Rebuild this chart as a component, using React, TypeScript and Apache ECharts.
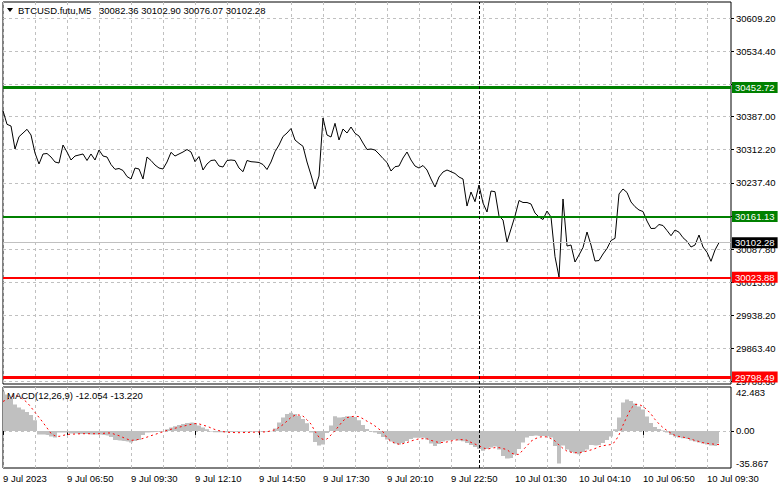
import React, { useEffect, useRef } from "react";
import * as echarts from "echarts";

// ---- data ----
const HEADER_SYMBOL = "BTCUSD.futu,M5";
const HEADER_OHLC = [30082.36, 30102.9, 30076.07, 30102.28];
const MACD_PARAMS = [12, 26, 9];
const MACD_LAST = [-12.054, -13.22];

// one sample every 10 minutes (2 M5 bars), starting 9 Jul 04:10
const START_DAY = 9;
const START_MINUTE = 4 * 60 + 10;
const STEP_MINUTES = 10;
const CATEGORY_COUNT = 183;
const SEPARATOR = "10 Jul 00:00";
const FIRST_LABEL = "9 Jul 2023";

const PRICE = [
  30400.4, 30369.7, 30365.8, 30313.9, 30341.7, 30350.0, 30358.4, 30345.5, 30304.8, 30280.0,
  30302.6, 30303.7, 30295.8, 30284.5, 30282.2, 30322.9, 30307.1, 30289.0, 30298.0, 30300.3,
  30302.6, 30287.9, 30302.6, 30289.0, 30311.6, 30298.0, 30295.8, 30278.8, 30268.0, 30269.8,
  30265.3, 30251.7, 30246.1, 30270.9, 30268.7, 30246.1, 30295.8, 30287.9, 30277.7, 30270.9,
  30268.7, 30284.5, 30306.4, 30298.0, 30302.6, 30307.1, 30312.7, 30307.1, 30285.2, 30296.9,
  30266.4, 30280.0, 30287.9, 30289.0, 30275.4, 30273.2, 30287.9, 30289.0, 30287.9, 30270.9,
  30262.6, 30287.9, 30285.2, 30284.5, 30283.4, 30278.8, 30267.5, 30284.5, 30307.8, 30322.9,
  30342.1, 30350.0, 30360.2, 30334.2, 30326.7, 30320.0, 30284.5, 30255.1, 30223.5, 30252.8,
  30384.0, 30345.5, 30341.0, 30371.9, 30334.2, 30359.1, 30350.0, 30363.6, 30349.3, 30343.2,
  30327.4, 30312.7, 30313.9, 30311.6, 30302.6, 30292.4, 30283.4, 30264.1, 30273.9, 30275.4,
  30293.5, 30307.1, 30289.0, 30275.4, 30270.9, 30276.6, 30266.4, 30246.1, 30228.0, 30250.6,
  30261.9, 30266.4, 30262.6, 30258.5, 30250.6, 30246.1, 30185.0, 30216.7, 30194.8, 30232.5,
  30191.8, 30171.5, 30218.9, 30217.4, 30162.4, 30153.4, 30103.7, 30133.1, 30162.4, 30197.5,
  30193.0, 30193.0, 30189.6, 30169.2, 30160.2, 30154.5, 30173.7, 30160.2, 30070.5, 30024.6,
  30200.9, 30094.6, 30096.9, 30058.5, 30074.3, 30091.3, 30126.3, 30096.9, 30060.7, 30061.9,
  30076.6, 30089.0, 30107.1, 30112.0, 30212.2, 30223.5, 30215.6, 30194.1, 30183.5, 30176.0,
  30172.6, 30151.1, 30134.2, 30134.6, 30143.2, 30141.0, 30129.7, 30117.9, 30130.8, 30125.8,
  30113.4, 30105.3, 30092.4, 30096.9, 30119.5, 30092.4, 30080.4, 30060.1, 30085.6, 30102.28,
];

const MACD_MAIN = [
  38.2, 35.3, 31.4, 25.6, 22.7, 20.8, 18.4, 15.5, 10.2, -3.4,
  -3.4, -3.9, -5.3, -6.3, -1.5, -1.5, -1.5, -2.4, -2.4, -2.9,
  -2.9, -2.9, -3.4, -3.4, -3.4, -3.9, -4.4, -5.8, -8.7, -9.2,
  -9.7, -10.2, -11.1, -9.7, -8.7, -3.9, -1.5, -1.3, -1.0, -0.5,
  -0.2, 1.7, 3.4, 4.4, 5.8, 6.8, 7.7, 8.2, 7.7, 5.3,
  3.4, 1.5, -0.5, -1.2, -1.2, -1.2, -1.2, -1.0, -0.8, -0.5,
  -0.5, -0.5, -0.5, -0.5, -0.5, -0.5, -0.5, -0.3, 2.4, 8.2,
  13.1, 16.4, 17.6, 16.4, 14.5, 11.6, 7.3, -1.5, -10.6, -14.0,
  -13.1, -1.9, 5.3, 14.3, 13.1, 13.5, 14.3, 14.3, 13.5, 10.2,
  5.8, 1.9, -0.5, -1.5, -2.9, -5.8, -8.2, -10.2, -12.1, -13.1,
  -11.6, -9.7, -7.7, -6.6, -6.6, -6.6, -8.2, -12.1, -14.5, -12.6,
  -10.2, -9.2, -8.7, -8.2, -9.2, -9.9, -11.6, -13.5, -15.5, -17.4,
  -19.3, -17.4, -16.0, -15.0, -17.9, -24.2, -26.6, -26.1, -22.7, -17.4,
  -11.1, -6.3, -4.8, -4.5, -4.9, -5.0, -5.1, -6.3, -14.7, -31.4,
  -14.0, -17.9, -20.3, -21.6, -22.5, -20.3, -17.9, -13.5, -14.0, -13.5,
  -11.6, -8.7, -5.3, 1.5, 13.1, 27.6, 30.5, 29.0, 26.6, 23.6,
  20.8, 14.0, 7.7, 3.9, 1.9, 0.3, -1.5, -3.9, -5.3, -6.3,
  -7.1, -7.7, -9.2, -10.2, -11.1, -12.1, -13.1, -14.0, -14.5, -12.054,
];

const MACD_SIGNAL = [
  28.5, 30.5, 32.7, 34.6, 33.4, 30.7, 27.6, 23.0, 17.9, 13.1,
  8.2, 2.9, -2.4, -4.8, -5.3, -4.4, -3.4, -3.2, -3.0, -2.8,
  -2.7, -2.7, -2.7, -2.7, -2.7, -2.4, -2.0, -2.0, -3.4, -4.6,
  -6.3, -7.9, -9.2, -8.7, -8.2, -7.3, -6.0, -4.6, -3.4, -2.1,
  -0.8, 0.5, 1.6, 2.6, 3.6, 4.5, 5.5, 6.3, 7.1, 6.8,
  5.6, 4.5, 2.9, 1.3, 0.3, -0.7, -1.2, -1.5, -1.6, -1.7,
  -1.6, -1.5, -1.3, -1.2, -1.1, -1.0, -0.9, 0.2, 1.1, 3.4,
  6.1, 9.5, 13.1, 15.2, 15.4, 14.4, 10.7, 6.7, -0.5, -6.1,
  -8.2, -7.9, -3.9, 0.2, 5.0, 9.7, 12.8, 13.8, 14.2, 13.8,
  11.8, 9.4, 7.3, 4.8, 1.7, -0.8, -6.8, -10.0, -11.8, -12.9,
  -12.3, -11.3, -9.8, -8.6, -7.7, -7.5, -7.6, -9.1, -10.3, -11.2,
  -11.2, -10.7, -9.7, -9.0, -8.3, -8.5, -9.0, -11.1, -12.7, -14.5,
  -16.2, -17.8, -16.7, -16.2, -16.2, -17.1, -18.1, -21.3, -22.7, -22.7,
  -18.4, -14.4, -10.0, -7.7, -6.0, -5.6, -5.8, -7.4, -9.7, -13.7,
  -16.9, -19.6, -20.6, -21.1, -21.1, -20.4, -19.4, -18.4, -17.1, -15.3,
  -14.3, -13.7, -13.2, -10.5, -3.8, 5.6, 14.0, 21.8, 25.6, 25.6,
  23.7, 20.5, 16.4, 11.1, 6.8, 3.2, 0.4, -2.2, -4.3, -5.4,
  -6.0, -6.9, -7.8, -9.3, -10.2, -11.4, -12.0, -12.5, -12.9, -13.22,
];

const PRICE_MIN = 29782.8;
const PRICE_MAX = 30646.1;
const PRICE_GRID_VALUES = [
  29788.6, 29863.4, 29938.2, 30013.0, 30087.8, 30162.6, 30237.4, 30312.2, 30387.0, 30459.6,
  30534.4, 30609.2,
];
const PRICE_LABEL_VALUES = [
  29788.6, 29863.4, 29938.2, 30013.0, 30087.8, 30237.4, 30312.2, 30387.0, 30534.4, 30609.2,
];
const GREEN_LEVELS = [30452.72, 30161.13];
const RED_LEVELS = [30023.88, 29798.49];
const LAST_PRICE = 30102.28;

const MACD_MIN = -35.867;
const MACD_MAX = 42.483;
const MACD_LABEL_VALUES = [-35.867, 0, 42.483];
const MACD_GRID_VALUES = [0];

// ---- helpers ----
const pad = (n: number) => (n < 10 ? "0" + n : "" + n);
function buildCategories(): string[] {
  const out: string[] = [];
  for (let i = 0; i < CATEGORY_COUNT; i++) {
    const m = START_MINUTE + i * STEP_MINUTES;
    const day = START_DAY + Math.floor(m / 1440);
    const mm = m % 1440;
    out.push(`${day} Jul ${pad(Math.floor(mm / 60))}:${pad(mm % 60)}`);
  }
  return out;
}
const CATEGORIES = buildCategories();

const FONT = "'Liberation Sans', Arial, sans-serif";
const FS = 9.5;
const GRID_LINE = { color: "#c0c0c0", width: 1, type: [3, 3] as any };

function levelLine(value: number, color: string, width: number, bg: string) {
  return {
    yAxis: value,
    lineStyle: { color, width, type: "solid" },
    label: {
      show: true,
      position: "end",
      distance: 1,
      formatter: value.toFixed(2),
      color: "#fff",
      backgroundColor: bg,
      padding: [1, 3, 0, 3],
      lineHeight: 10,
      fontSize: FS,
      fontFamily: FONT,
    },
  };
}

export default function App() {
  const ref = useRef<HTMLDivElement>(null);

  useEffect(() => {
    if (!ref.current) return;
    const chart = echarts.init(ref.current, undefined, { renderer: "svg" });

    const option: any = {
      animation: false,
      backgroundColor: "#fff",
      textStyle: { fontFamily: FONT },
      grid: [
        {
          left: 3, top: 2, width: 728, height: 382, show: true,
          borderColor: "#000", borderWidth: 1, backgroundColor: "#fff",
          containLabel: false, outerBoundsMode: "none",
        },
        {
          left: 3, top: 387, width: 728, height: 81, show: true,
          borderColor: "#000", borderWidth: 1, backgroundColor: "#fff",
          containLabel: false, outerBoundsMode: "none",
        },
      ],
      xAxis: [
        {
          type: "category", gridIndex: 0, data: CATEGORIES, boundaryGap: false,
          axisLine: { show: false }, axisTick: { show: false }, axisLabel: { show: false },
          splitLine: { show: true, interval: 7, lineStyle: GRID_LINE },
        },
        {
          type: "category", gridIndex: 1, data: CATEGORIES, boundaryGap: false,
          axisLine: { show: false },
          axisTick: { show: true, interval: 15, length: 4, lineStyle: { color: "#000" } },
          axisLabel: {
            show: true, interval: 15, align: "left", margin: 5,
            color: "#000", fontSize: FS, fontFamily: FONT,
            formatter: (v: string, i: number) => (i === 0 ? FIRST_LABEL : v),
          },
          splitLine: { show: true, interval: 7, lineStyle: GRID_LINE },
        },
      ],
      yAxis: [
        {
          type: "value", gridIndex: 0, position: "right", min: PRICE_MIN, max: PRICE_MAX,
          axisLine: { show: false },
          axisTick: { show: true, customValues: PRICE_GRID_VALUES, length: 3, lineStyle: { color: "#000" } },
          axisLabel: {
            customValues: PRICE_LABEL_VALUES, margin: 5, color: "#000",
            fontSize: FS, fontFamily: FONT, formatter: (v: number) => v.toFixed(2),
          },
          splitLine: { show: true, lineStyle: GRID_LINE },
        },
        {
          type: "value", gridIndex: 1, position: "right", min: MACD_MIN, max: MACD_MAX,
          axisLine: { show: false },
          axisTick: { show: true, customValues: MACD_GRID_VALUES, length: 3, lineStyle: { color: "#000" } },
          axisLabel: {
            customValues: MACD_LABEL_VALUES, margin: 5, color: "#000",
            fontSize: FS, fontFamily: FONT,
            verticalAlignMinLabel: "bottom", verticalAlignMaxLabel: "top",
            formatter: (v: number) => (v === 0 ? "0.00" : v.toFixed(3)),
          },
          splitLine: { show: true, lineStyle: GRID_LINE },
        },
      ],
      series: [
        {
          name: "price", type: "line", xAxisIndex: 0, yAxisIndex: 0, data: PRICE,
          symbol: "none", lineStyle: { color: "#000", width: 1 }, z: 3,
          markLine: {
            silent: true, symbol: ["none", "none"], animation: false,
            data: [
              levelLine(LAST_PRICE, "#c0c0c0", 1, "#000"),
              levelLine(GREEN_LEVELS[0], "#008000", 3, "#008000"),
              levelLine(GREEN_LEVELS[1], "#008000", 2, "#008000"),
              levelLine(RED_LEVELS[0], "#ff0000", 2, "#ff0000"),
              levelLine(RED_LEVELS[1], "#ff0000", 3, "#ff0000"),
              { xAxis: SEPARATOR, lineStyle: { color: "#000", width: 1, type: [3, 2] }, label: { show: false } },
            ],
          },
        },
        {
          name: "macd", type: "line", step: "middle", xAxisIndex: 1, yAxisIndex: 1, data: MACD_MAIN,
          symbol: "none", lineStyle: { width: 0, color: "#c0c0c0" },
          areaStyle: { color: "#c0c0c0", opacity: 1 }, z: 2,
          markLine: {
            silent: true, symbol: ["none", "none"], animation: false,
            data: [
              { xAxis: SEPARATOR, lineStyle: { color: "#000", width: 1, type: [3, 2] }, label: { show: false } },
            ],
          },
        },
        {
          name: "signal", type: "line", xAxisIndex: 1, yAxisIndex: 1, data: MACD_SIGNAL,
          symbol: "none", lineStyle: { color: "#ff0000", width: 1, type: [2, 3] }, z: 4,
        },
      ],
      graphic: [
        {
          type: "polygon", z: 100,
          shape: { points: [[7, 8], [13, 8], [10, 12]] },
          style: { fill: "#000" },
        },
        {
          type: "text", x: 18, y: 10, z: 100,
          style: { text: HEADER_SYMBOL, fill: "#000", fontSize: FS, fontFamily: FONT, verticalAlign: "middle" },
        },
        {
          type: "text", x: 99, y: 10, z: 100,
          style: {
            text: HEADER_OHLC.map((v) => v.toFixed(2)).join(" "),
            fill: "#000", fontSize: FS, fontFamily: FONT, verticalAlign: "middle",
          },
        },
        {
          type: "text", x: 7, y: 395, z: 100,
          style: {
            text: `MACD(${MACD_PARAMS.join(",")}) ${MACD_LAST.map((v) => v.toFixed(3)).join(" ")}`,
            fill: "#000", fontSize: FS, fontFamily: FONT, verticalAlign: "middle",
          },
        },
      ],
    };

    chart.setOption(option);
    return () => chart.dispose();
  }, []);

  return (
    <div
      ref={ref}
      style={{ position: "fixed", left: 0, top: 0, width: 781, height: 489, background: "#fff" }}
    />
  );
}
